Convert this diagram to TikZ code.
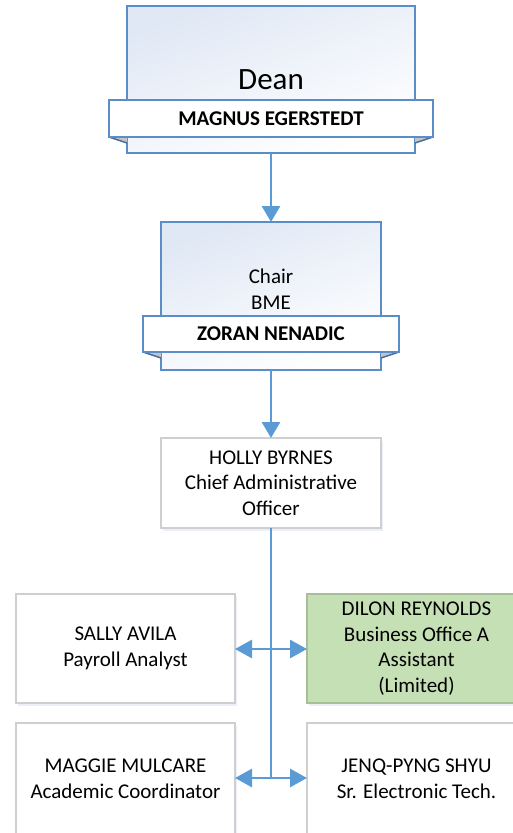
\documentclass[tikz,border=0pt]{standalone}
\usepackage{fontspec}
\setmainfont{Carlito}
\usetikzlibrary{arrows.meta,shadows}
\definecolor{lineblue}{HTML}{5B9BD5}
\definecolor{boxblue}{HTML}{5B8DC8}
\definecolor{shadeblue}{HTML}{E0E8F5}
\definecolor{glowblue}{HTML}{DCE5F3}
\definecolor{flapgray}{HTML}{C4C4C4}
\definecolor{flapdark}{HTML}{4A6E9C}
\definecolor{greenfill}{HTML}{C5E0B4}
\definecolor{graybord}{HTML}{CFCFCF}
\tikzset{
  every node/.style={inner sep=0pt, outer sep=0pt},
  txt/.style={font=\fontsize{21}{25.6}\selectfont, align=center},
  outerbox/.style={draw=boxblue, line width=2pt, top color=shadeblue, bottom color=white, shading angle=20},
  namebar/.style={draw=boxblue, line width=2pt, fill=white, font=\fontsize{21}{25.6}\selectfont\bfseries},
  plainbox/.style={draw=graybord, line width=1.3pt, fill=white, txt,
    drop shadow={shadow xshift=1.5pt, shadow yshift=-3pt, fill=glowblue, opacity=0.6}},
  conn/.style={draw=lineblue, line width=2.8pt},
  arr/.style={conn, -{Triangle[width=18pt,length=16pt]}},
  darr/.style={conn, {Triangle[width=18pt,length=17pt]}-{Triangle[width=18pt,length=17pt]}},
}
\begin{document}
\begin{tikzpicture}[x=1pt,y=-1pt]
\useasboundingbox (0,0) rectangle (513,833);
% Dean
\node[outerbox, minimum width=288, minimum height=147] (deanbox) at (271,79.5) {};
\node[txt, font=\fontsize{31}{37}\selectfont] (deantitle) at (271,80) {Dean};
\fill[flapgray] (109,137) -- (127,137) -- (127,143) -- cycle;
\fill[flapgray] (433,137) -- (415,137) -- (415,143) -- cycle;
\draw[flapdark, line width=1.5pt] (109,137) -- (127,143);
\draw[flapdark, line width=1.5pt] (433,137) -- (415,143);
\node[namebar, minimum width=324, minimum height=37] (deanname) at (271,118.5) {MAGNUS EGERSTEDT};
% Chair
\node[outerbox, minimum width=220, minimum height=148] (chairbox) at (271,296) {};
\node[txt] (chairtitle) at (271,289) {Chair\\BME};
\fill[flapgray] (143,352) -- (161,352) -- (161,358) -- cycle;
\fill[flapgray] (399,352) -- (381,352) -- (381,358) -- cycle;
\draw[flapdark, line width=1.5pt] (143,352) -- (161,358);
\draw[flapdark, line width=1.5pt] (399,352) -- (381,358);
\node[namebar, minimum width=256, minimum height=36] (chairname) at (271,334) {ZORAN NENADIC};
% Holly
\node[plainbox, minimum width=220, minimum height=90] (holly) at (271,483) {HOLLY BYRNES\\Chief Administrative\\Officer};
% Reports
\node[plainbox, minimum width=219, minimum height=109] (sally) at (125.5,648.5) {SALLY AVILA\\Payroll Analyst};
\node[plainbox, fill=greenfill, draw=greenfill!85!black, minimum width=219, minimum height=109] (dilon) at (416.5,648.5) {DILON REYNOLDS\\Business Office A\\Assistant\\(Limited)};
\node[plainbox, minimum width=219, minimum height=112] (maggie) at (125.5,779) {MAGGIE MULCARE\\Academic Coordinator};
\node[plainbox, minimum width=219, minimum height=112] (jenq) at (416.5,779) {JENQ-PYNG SHYU\\Sr. Electronic Tech.};
% connectors
\draw[arr] (deanbox.south) -- (chairbox.north);
\draw[arr] (chairbox.south) -- (holly.north);
\coordinate (j1) at (271,649);
\coordinate (j2) at (271,778);
\draw[conn] (holly.south) -- (j2);
\draw[darr] (sally.east |- j1) -- (dilon.west |- j1);
\draw[darr] (maggie.east |- j2) -- (jenq.west |- j2);
\end{tikzpicture}
\end{document}
